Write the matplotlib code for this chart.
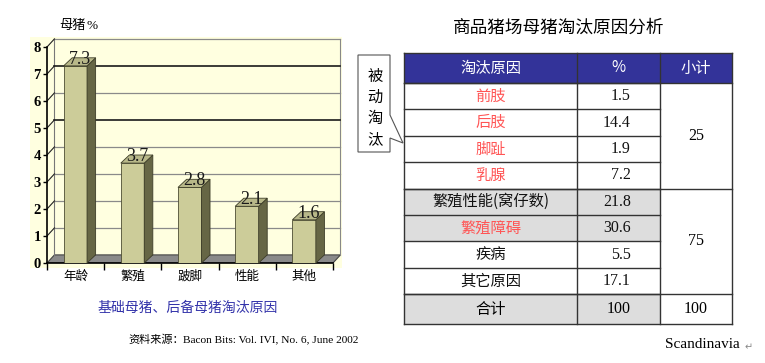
import matplotlib
matplotlib.use('Agg')
import matplotlib.pyplot as plt
from matplotlib.patches import Rectangle, Polygon

plt.rcParams['font.family'] = ['Noto Sans CJK SC', 'DejaVu Sans']
SERIF = 'Liberation Serif'

# left chart data
categories = ['年龄', '繁殖', '跛脚', '性能', '其他']
values = [7.3, 3.7, 2.8, 2.1, 1.6]

# table data
header = ['淘汰原因', '%', '小计']
reasons = ['前肢', '后肢', '脚趾', '乳腺', '繁殖性能(窝仔数)', '繁殖障碍', '疾病', '其它原因']
percents = ['1.5', '14.4', '1.9', '7.2', '21.8', '30.6', '5.5', '17.1']
red_rows = [True, True, True, True, False, True, False, False]
grey_rows = [False, False, False, False, True, True, False, False]
subtotals = ['25', '75']
group_sizes = [4, 4]
total_row = ['合计', '100', '100']

W, H = 765, 363
fig = plt.figure(figsize=(W / 100, H / 100), dpi=100)

# full-figure overlay in pixel coordinates
bg = fig.add_axes([0, 0, 1, 1])
bg.set_xlim(0, W)
bg.set_ylim(H, 0)
bg.axis('off')

# cream plot background
bg.add_patch(Rectangle((30, 37), 312, 231, fc='#FFFFE0', ec='none'))

# ---- bar chart ----
px_unit, py_unit = 57.2, 27.0
x0_px, y0_px = 47, 263
xmax = (342 - x0_px) / px_unit
ymax = 8.35
ax = fig.add_axes([x0_px / W, 1 - y0_px / H, (342 - x0_px) / W, ymax * py_unit / H])
ax.set_xlim(0, xmax)
ax.set_ylim(0, ymax)
ax.patch.set_visible(False)
for s in ['top', 'right']:
    ax.spines[s].set_visible(False)
ax.spines['left'].set_bounds(0, 8)
ax.spines['bottom'].set_bounds(0, 5)
for s in ['left', 'bottom']:
    ax.spines[s].set_linewidth(1.2)

dx, dy = 0.13, 0.3
n = len(categories)

# floor
ax.add_patch(Polygon([(0, 0), (n, 0), (n + dx, dy), (dx, dy)],
                     fc='#8a8a8a', ec='#444444', lw=0.8, zorder=1))
# back wall and gridlines
ax.plot([dx, dx], [dy, 8 + dy], color='#777777', lw=0.8, zorder=1)
ax.plot([n + dx, n + dx], [dy, 8 + dy], color='#888888', lw=0.8, zorder=1)
for k in range(1, 9):
    dark = k in (5, 7)
    ax.plot([dx, n + dx], [k + dy, k + dy], color='#1a1a1a' if dark else '#8a8a8a',
            lw=1.2 if dark else 0.9, zorder=1)
    ax.plot([0, dx], [k, k + dy], color='#222222', lw=0.8, zorder=1)

# bars with 3D faces
fx0, bw, bdx, bdy = 0.29, 0.41, 0.15, 0.3
bars = ax.bar([i + fx0 for i in range(n)], values, width=bw, align='edge',
              color='#CCCC99', edgecolor='#4d4d33', lw=0.6, zorder=3)
for b in bars:
    x, w, h = b.get_x(), b.get_width(), b.get_height()
    ax.add_patch(Polygon([(x + w, 0), (x + w + bdx, bdy), (x + w + bdx, h + bdy), (x + w, h)],
                         fc='#666645', ec='#3d3d28', lw=0.6, zorder=3))
    ax.add_patch(Polygon([(x, h), (x + w, h), (x + w + bdx, h + bdy), (x + bdx, h + bdy)],
                         fc='#B8B889', ec='#3d3d28', lw=0.6, zorder=3))
    ax.text(x + w / 2 + bdx / 2, h + 0.24, f'{h:g}', family=SERIF, fontsize=13,
            ha='center', va='center', color='#1a1a1a', zorder=4)

ax.set_yticks(range(9))
ax.set_yticklabels([str(k) for k in range(9)], family=SERIF, fontsize=10.5, fontweight='bold')
ax.tick_params(axis='y', direction='out', length=3, pad=1.5, width=1)
ax.set_xticks(range(n + 1))
ax.set_xticklabels([''] * (n + 1))
ax.tick_params(axis='x', which='major', direction='out', length=5, width=1)
ax.set_xticks([i + 0.5 for i in range(n)], minor=True)
ax.set_xticklabels(categories, minor=True, fontsize=9)
ax.tick_params(axis='x', which='minor', length=0, pad=5)

bg.text(59, 25, '母猪', fontsize=9.5, va='center')
bg.text(87, 26, '%', family=SERIF, fontsize=9.5, va='center')
bg.text(188, 308, '基础母猪、后备母猪淘汰原因', color='#3333AA', fontsize=10,
        ha='center', va='center')
bg.text(128, 340, '资料来源：', fontsize=8, va='center')
bg.text(183, 340, 'Bacon Bits: Vol. IVI, No. 6, June 2002', family=SERIF,
        fontsize=8.2, va='center')

# ---- table ----
bg.text(559, 28, '商品猪场母猪淘汰原因分析', fontsize=12.7, ha='center', va='center')

tx = [404, 577, 660, 732]
cx = [(tx[i] + tx[i + 1]) / 2 for i in range(3)]
top, hdr_h, row_h, tot_h = 53, 30, 26.4, 30
ys = [top + hdr_h + i * row_h for i in range(len(reasons) + 1)]
y_end = ys[-1] + tot_h
lc = '#333333'

bg.add_patch(Rectangle((tx[0], top), tx[3] - tx[0], hdr_h, fc='#333399', ec='none'))
for j, t in enumerate(header):
    bg.text(cx[j], top + hdr_h / 2, t, color='white', fontsize=11, ha='center', va='center')

for i, r in enumerate(reasons):
    yc = ys[i] + row_h / 2
    if grey_rows[i]:
        bg.add_patch(Rectangle((tx[0], ys[i]), tx[2] - tx[0], row_h, fc='#DDDDDD', ec='none'))
    bg.text(cx[0], yc, r, fontsize=11, ha='center', va='center',
            color='#FF5555' if red_rows[i] else '#111111')
    bg.text(631, yc, percents[i], family=SERIF, fontsize=11.5, ha='right', va='center',
            color='#111111')

bg.add_patch(Rectangle((tx[0], ys[-1]), tx[2] - tx[0], tot_h, fc='#DDDDDD', ec='none'))
bg.text(cx[0], ys[-1] + tot_h / 2, total_row[0], fontsize=11, ha='center', va='center')
bg.text(cx[1], ys[-1] + tot_h / 2, total_row[1], family=SERIF, fontsize=11.5,
        ha='center', va='center')
bg.text(cx[2], ys[-1] + tot_h / 2, total_row[2], family=SERIF, fontsize=11.5,
        ha='center', va='center')

start = 0
group_edges = [ys[0]]
for s, g in zip(subtotals, group_sizes):
    y_a, y_b = ys[start], ys[start + g]
    bg.text(cx[2], (y_a + y_b) / 2, s, family=SERIF, fontsize=11.5, ha='center', va='center')
    group_edges.append(y_b)
    start += g

# grid lines
for y in ys:
    bg.plot([tx[0], tx[2]], [y, y], color=lc, lw=1)
for y in group_edges + [top, y_end]:
    bg.plot([tx[0], tx[3]], [y, y], color=lc, lw=1)
for x in tx:
    bg.plot([x, x], [top, y_end], color=lc, lw=1)

# callout
bg.add_patch(Polygon([(358, 55), (390, 55), (390, 115), (403, 143), (390, 138),
                      (390, 152), (358, 152)], closed=True, fc='white', ec='#555555', lw=0.8))
for k, ch in enumerate('被动淘汰'):
    bg.text(375, 76 + k * 21.2, ch, fontsize=11, ha='center', va='center')

bg.text(665, 344, 'Scandinavia', family=SERIF, fontsize=11, va='center')
bg.text(745, 347, '↵', family='DejaVu Sans', fontsize=7, color='#888888', va='center')

fig.savefig('out.png', dpi=100)
